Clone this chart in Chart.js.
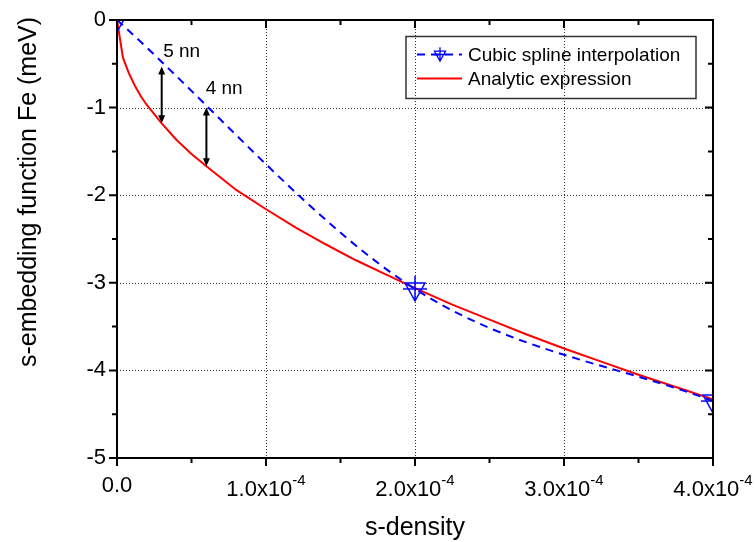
<!DOCTYPE html>
<html>
<head>
<meta charset="utf-8">
<style>
body { margin: 0; background: #fff; }
</style>
<title>s-embedding function</title>
</head>
<body>
<canvas id="embplot" width="755" height="542"></canvas>
<script src="https://cdn.jsdelivr.net/npm/chart.js@4/dist/chart.umd.min.js"></script>
<script>
// cubic spline knots (x in s-density, y in meV)
var splineX = [0, 2.0e-4, 4.0e-4];
var splineY = [0, -3.07, -4.35];

// analytic expression, values
var analyticX = [0, 0.04e-4, 0.08e-4, 0.12e-4, 0.16e-4, 0.2e-4, 0.3e-4, 0.4e-4, 0.5e-4, 0.6e-4,
                 0.8e-4, 1.0e-4, 1.2e-4, 1.4e-4, 1.6e-4, 1.8e-4, 2.0e-4, 2.25e-4, 2.5e-4,
                 2.75e-4, 3.0e-4, 3.25e-4, 3.5e-4, 3.75e-4, 4.0e-4];
var analyticY = [0, -0.43, -0.61, -0.75, -0.87, -0.97, -1.18, -1.37, -1.53, -1.67,
                 -1.94, -2.16, -2.37, -2.56, -2.74, -2.90, -3.06, -3.25, -3.42,
                 -3.59, -3.75, -3.90, -4.05, -4.19, -4.33];

// arrows between the two curves
var arrowX = [0.3e-4, 0.6e-4];
var arrowTop = [-0.53, -1.0];
var arrowBottom = [-1.18, -1.67];
var arrowLabel = ['5 nn', '4 nn'];
var labelX = [0.31e-4, 0.595e-4];
var labelY = [-0.36, -0.79];

var xTitle = 's-density';
var yTitle = 's-embedding function Fe (meV)';
var FONT = 'Arial, "Liberation Sans", sans-serif';

function toPoints(xs, ys) {
  var pts = [];
  for (var i = 0; i < xs.length; i++) pts.push({x: xs[i], y: ys[i]});
  return pts;
}

// down triangle with a cross, drawn around (cx, cy)
function drawMarker(ctx, cx, cy, s) {
  ctx.beginPath();
  ctx.moveTo(cx - 10 * s, cy - 6 * s);
  ctx.lineTo(cx + 10 * s, cy - 6 * s);
  ctx.lineTo(cx, cy + 12 * s);
  ctx.closePath();
  ctx.moveTo(cx - 12 * s, cy);
  ctx.lineTo(cx + 12 * s, cy);
  ctx.moveTo(cx, cy - 13 * s);
  ctx.lineTo(cx, cy + 12 * s);
  ctx.stroke();
}

var markerImg = document.createElement('canvas');
markerImg.width = 28;
markerImg.height = 28;
(function () {
  var c = markerImg.getContext('2d');
  c.strokeStyle = '#0000ff';
  c.lineWidth = 1.5;
  drawMarker(c, 14, 14, 1);
})();

function fmtX(v) {
  if (v === 0) return ['0.0', ''];
  var e = Math.floor(Math.log10(Math.abs(v)) + 1e-9);
  var m = v / Math.pow(10, e);
  return [m.toFixed(1) + 'x10', String(e)];
}

var frame = {
  id: 'frame',
  beforeDatasetsDraw: function (chart) {
    var ctx = chart.ctx, a = chart.chartArea;
    var xs = chart.scales.x, ys = chart.scales.y;
    ctx.save();
    ctx.strokeStyle = '#333';
    ctx.lineWidth = 1;
    ctx.setLineDash([1, 2]);
    xs.ticks.forEach(function (t) {
      if (t.value <= xs.min || t.value >= xs.max) return;
      var px = Math.round(xs.getPixelForValue(t.value)) + 0.5;
      ctx.beginPath(); ctx.moveTo(px, a.top); ctx.lineTo(px, a.bottom); ctx.stroke();
    });
    ys.ticks.forEach(function (t) {
      if (t.value <= ys.min || t.value >= ys.max) return;
      var py = Math.round(ys.getPixelForValue(t.value)) + 0.5;
      ctx.beginPath(); ctx.moveTo(a.left, py); ctx.lineTo(a.right, py); ctx.stroke();
    });
    ctx.restore();
  },
  afterDatasetsDraw: function (chart) {
    var ctx = chart.ctx, a = chart.chartArea;
    var xs = chart.scales.x, ys = chart.scales.y;
    ctx.save();
    ctx.strokeStyle = '#000';
    ctx.fillStyle = '#000';
    ctx.lineWidth = 2;
    ctx.strokeRect(a.left, a.top, a.right - a.left, a.bottom - a.top);

    // ticks: outward on left/bottom, inward on top/right
    ctx.lineWidth = 2;
    var xt = xs.ticks.map(function (t) { return t.value; });
    var yt = ys.ticks.map(function (t) { return t.value; });
    function vtick(v, len) {
      var px = xs.getPixelForValue(v);
      ctx.beginPath();
      ctx.moveTo(px, a.bottom); ctx.lineTo(px, a.bottom + len);
      ctx.moveTo(px, a.top); ctx.lineTo(px, a.top + len);
      ctx.stroke();
    }
    function htick(v, len) {
      var py = ys.getPixelForValue(v);
      ctx.beginPath();
      ctx.moveTo(a.left, py); ctx.lineTo(a.left - len, py);
      ctx.moveTo(a.right, py); ctx.lineTo(a.right - len, py);
      ctx.stroke();
    }
    xt.forEach(function (v, i) {
      vtick(v, 8);
      if (i < xt.length - 1) vtick((v + xt[i + 1]) / 2, 5);
    });
    yt.forEach(function (v, i) {
      htick(v, 8);
      if (i < yt.length - 1) htick((v + yt[i + 1]) / 2, 5);
    });

    // x tick labels with superscript exponent
    ctx.textBaseline = 'alphabetic';
    ctx.textAlign = 'left';
    xt.forEach(function (v) {
      var parts = fmtX(v);
      var px = xs.getPixelForValue(v);
      ctx.font = '22px ' + FONT;
      var w1 = ctx.measureText(parts[0]).width;
      ctx.font = '15px ' + FONT;
      var w2 = parts[1] ? ctx.measureText(parts[1]).width : 0;
      var x0 = px - (w1 + w2) / 2;
      var base = parts[1] ? a.bottom + 38 : a.bottom + 34;
      ctx.font = '22px ' + FONT;
      ctx.fillText(parts[0], x0, base);
      if (parts[1]) {
        ctx.font = '15px ' + FONT;
        ctx.fillText(parts[1], x0 + w1, base - 11);
      }
    });

    // y tick labels
    ctx.font = '22px ' + FONT;
    ctx.textAlign = 'right';
    ctx.textBaseline = 'middle';
    yt.forEach(function (v) {
      ctx.fillText(String(v), a.left - 11, ys.getPixelForValue(v));
    });

    // axis titles
    ctx.font = '25px ' + FONT;
    ctx.textAlign = 'center';
    ctx.textBaseline = 'alphabetic';
    ctx.fillText(xTitle, (a.left + a.right) / 2, a.bottom + 77);
    ctx.save();
    ctx.translate(36, 192);
    ctx.rotate(-Math.PI / 2);
    ctx.fillText(yTitle, 0, 0);
    ctx.restore();

    // double-headed arrows and labels
    ctx.lineWidth = 2;
    for (var i = 0; i < arrowX.length; i++) {
      var ax = xs.getPixelForValue(arrowX[i]);
      var y1 = ys.getPixelForValue(arrowTop[i]);
      var y2 = ys.getPixelForValue(arrowBottom[i]);
      ctx.beginPath();
      ctx.moveTo(ax, y1 + 5); ctx.lineTo(ax, y2 - 5);
      ctx.stroke();
      ctx.beginPath();
      ctx.moveTo(ax, y1); ctx.lineTo(ax - 3.5, y1 + 8); ctx.lineTo(ax + 3.5, y1 + 8); ctx.closePath();
      ctx.moveTo(ax, y2); ctx.lineTo(ax - 3.5, y2 - 8); ctx.lineTo(ax + 3.5, y2 - 8); ctx.closePath();
      ctx.fill();
      ctx.font = '19px ' + FONT;
      ctx.textAlign = 'left';
      ctx.textBaseline = 'middle';
      ctx.fillText(arrowLabel[i], xs.getPixelForValue(labelX[i]), ys.getPixelForValue(labelY[i]));
    }

    // legend box
    var bx = a.right - 307, by = a.top + 16.5, bw = 290, bh = 62;
    ctx.lineWidth = 1.5;
    ctx.strokeStyle = '#333';
    ctx.strokeRect(bx, by, bw, bh);
    ctx.font = '19px ' + FONT;
    ctx.textAlign = 'left';
    ctx.textBaseline = 'middle';
    chart.data.datasets.forEach(function (ds, k) {
      var ry = by + 18 + k * 24;
      ctx.strokeStyle = ds.borderColor;
      ctx.lineWidth = 2;
      ctx.setLineDash(ds.borderDash || []);
      ctx.beginPath(); ctx.moveTo(bx + 11, ry); ctx.lineTo(bx + 56, ry); ctx.stroke();
      ctx.setLineDash([]);
      if (ds.pointRadius) {
        ctx.lineWidth = 1.3;
        drawMarker(ctx, bx + 34, ry, 0.55);
      }
      ctx.fillStyle = '#000';
      ctx.fillText(ds.label, bx + 62, ry + 1);
    });
    ctx.restore();
  }
};

var ctx = document.getElementById('embplot');
var myChart = new Chart(ctx, {
  type: 'scatter',
  data: {
    datasets: [
      {
        label: 'Cubic spline interpolation',
        data: toPoints(splineX, splineY),
        showLine: true,
        borderColor: '#0000ff',
        borderWidth: 2,
        borderDash: [8, 6],
        cubicInterpolationMode: 'monotone',
        pointStyle: markerImg,
        pointRadius: 12,
        clip: 0
      },
      {
        label: 'Analytic expression',
        data: toPoints(analyticX, analyticY),
        showLine: true,
        borderColor: '#ff0000',
        borderWidth: 2,
        pointRadius: 0,
        tension: 0,
        clip: 0
      }
    ]
  },
  options: {
    responsive: false,
    animation: false,
    layout: { padding: { top: 20, right: 42, left: 0, bottom: 0 } },
    plugins: { legend: { display: false }, tooltip: { enabled: false } },
    scales: {
      x: {
        type: 'linear', min: 0, max: 4e-4,
        ticks: { stepSize: 1e-4, display: false },
        grid: { display: false },
        border: { display: false },
        afterFit: function (s) { s.height = 84; }
      },
      y: {
        type: 'linear', min: -5, max: 0,
        ticks: { stepSize: 1, display: false },
        grid: { display: false },
        border: { display: false },
        afterFit: function (s) { s.width = 117; }
      }
    }
  },
  plugins: [frame]
});
</script>
</body>
</html>
